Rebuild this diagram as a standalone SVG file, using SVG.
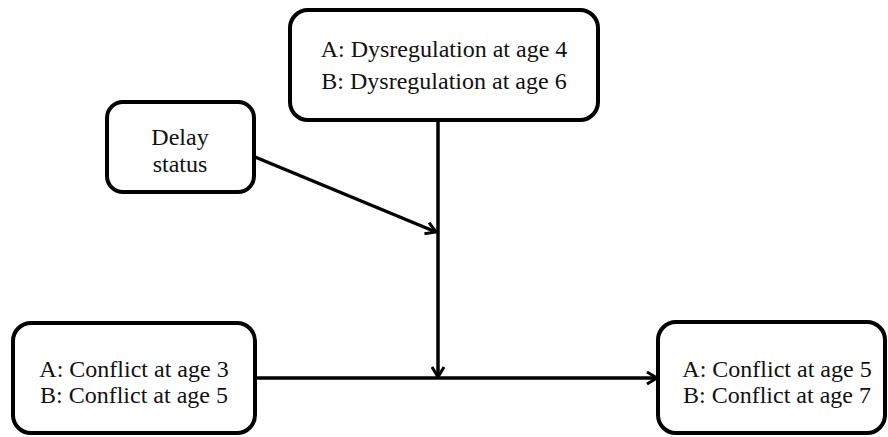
<svg xmlns="http://www.w3.org/2000/svg" width="888" height="437" viewBox="0 0 888 437">
<defs>
<style>
.box{fill:#fff;stroke:#000;stroke-width:4}
.t{font-family:"Liberation Serif","Times New Roman",serif;font-size:24px;fill:#111;text-anchor:middle}
.c{stroke:#000;stroke-width:3.5;fill:none}
</style>
<marker id="ah" viewBox="0 0 14 14" refX="12" refY="7" markerWidth="14" markerHeight="14" markerUnits="userSpaceOnUse" orient="auto">
<path d="M2,1 L12,7 L2,13" fill="none" stroke="#000" stroke-width="3"/>
</marker>
</defs>
<rect width="888" height="437" fill="#fff"/>
<g id="connectors">
<line class="c" x1="438" y1="120" x2="438" y2="377" marker-end="url(#ah)"/>
<line class="c" x1="255" y1="157" x2="436" y2="232" marker-end="url(#ah)"/>
<line class="c" x1="255" y1="378" x2="657" y2="378" marker-end="url(#ah)"/>
</g>
<g id="dysregulation">
<rect class="box" x="290" y="10" width="308" height="110" rx="18"/>
<text class="t" x="444" y="57">A: Dysregulation at age 4</text>
<text class="t" x="444" y="89">B: Dysregulation at age 6</text>
</g>
<g id="delay">
<rect class="box" x="107" y="102" width="147" height="90" rx="16"/>
<text class="t" x="180" y="145">Delay</text>
<text class="t" x="180" y="172">status</text>
</g>
<g id="conflict-early">
<rect class="box" x="13" y="323" width="242" height="110" rx="18"/>
<text class="t" x="134" y="377">A: Conflict at age 3</text>
<text class="t" x="134" y="403">B: Conflict at age 5</text>
</g>
<g id="conflict-late">
<rect class="box" x="658" y="322" width="227" height="111" rx="18"/>
<text class="t" x="777" y="377">A: Conflict at age 5</text>
<text class="t" x="777" y="403">B: Conflict at age 7</text>
</g>
</svg>
